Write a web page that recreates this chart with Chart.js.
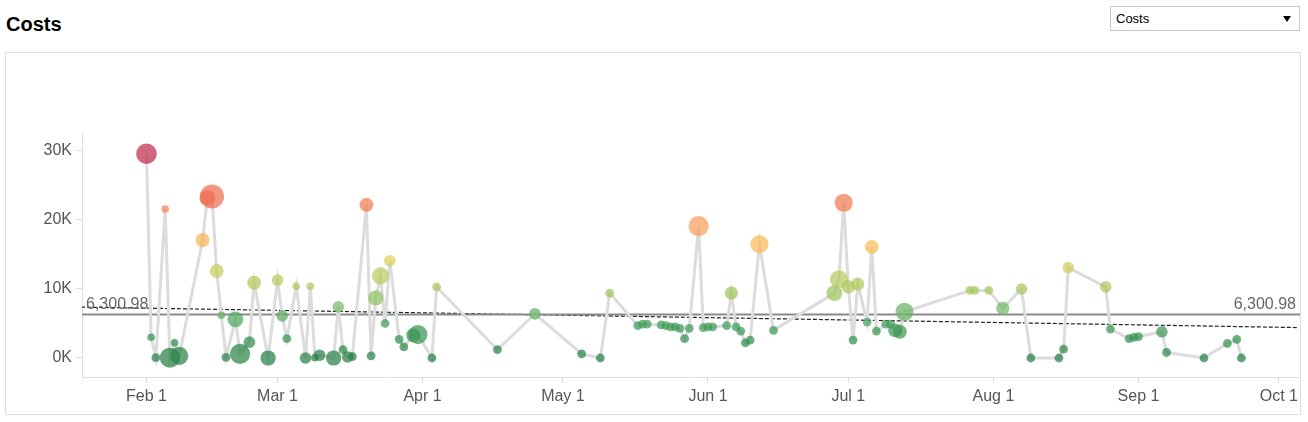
<!DOCTYPE html>
<html>
<head>
<meta charset="utf-8">
<script src="https://cdn.jsdelivr.net/npm/chart.js@4.4.1/dist/chart.umd.min.js"></script>
<style>
  body { margin: 0; background: #fff; font-family: "Liberation Sans", Arial, sans-serif; }
  #title { position: absolute; left: 6px; top: 14px; font-size: 20px; line-height: 20px; font-weight: bold; color: #000; }
  #picker { position: absolute; left: 1110px; top: 6px; width: 188px; height: 23px; border: 1px solid #c8c8c8; background: #fff; font-size: 13px; line-height: 23px; color: #000; }
  #picker span { position: absolute; left: 5px; top: 0; }
  #picker i { position: absolute; right: 8px; top: 9px; width: 0; height: 0; border-left: 4px solid transparent; border-right: 4px solid transparent; border-top: 6px solid #000; }
  #frame { position: absolute; left: 5px; top: 52px; width: 1294px; height: 361px; border: 1px solid #dedede; }
</style>
</head>
<body>
<div id="title">Costs</div>
<div id="picker"><span>Costs</span><i></i></div>
<div id="frame"><canvas id="costsChart"></canvas></div>
<script>
// Datas das ordens (2015) e custo de cada dia
const dates = [
  '2015-02-01','2015-02-02','2015-02-03','2015-02-05','2015-02-06','2015-02-07','2015-02-08','2015-02-13',
  '2015-02-14','2015-02-15','2015-02-16','2015-02-17','2015-02-18','2015-02-20','2015-02-21','2015-02-23',
  '2015-02-24','2015-02-27','2015-03-01','2015-03-02','2015-03-03','2015-03-05','2015-03-07','2015-03-08',
  '2015-03-09','2015-03-10','2015-03-13','2015-03-14','2015-03-15','2015-03-16','2015-03-17','2015-03-20',
  '2015-03-21','2015-03-22','2015-03-23','2015-03-24','2015-03-25','2015-03-27','2015-03-28','2015-03-30',
  '2015-03-31','2015-04-03','2015-04-04','2015-04-17','2015-04-25','2015-05-05','2015-05-09','2015-05-11',
  '2015-05-17','2015-05-18','2015-05-19','2015-05-22','2015-05-23','2015-05-24','2015-05-25','2015-05-26',
  '2015-05-27','2015-05-28','2015-05-30','2015-05-31','2015-06-01','2015-06-02','2015-06-05','2015-06-06',
  '2015-06-07','2015-06-08','2015-06-09','2015-06-10','2015-06-12','2015-06-15','2015-06-28','2015-06-29',
  '2015-06-30','2015-07-01','2015-07-02','2015-07-03','2015-07-05','2015-07-06','2015-07-07','2015-07-09',
  '2015-07-10','2015-07-11','2015-07-12','2015-07-13','2015-07-27','2015-07-28','2015-07-31','2015-08-03',
  '2015-08-07','2015-08-09','2015-08-15','2015-08-16','2015-08-17','2015-08-25','2015-08-26','2015-08-30',
  '2015-08-31','2015-09-01','2015-09-06','2015-09-07','2015-09-15','2015-09-20','2015-09-22','2015-09-23'
];

const costs = [
  29600, 3000, 50, 21600, 40, 2200, 300, 17100,
  23200, 23400, 12600, 6200, 100, 5600, 600, 2300,
  10900, 0, 11300, 6100, 2800, 10400, 0, 10400,
  50, 400, 0, 7400, 1200, 150, 200, 22200,
  300, 8700, 11900, 5000, 14100, 2700, 1600, 3300,
  3400, 0, 10300, 1200, 6400, 600, 0, 9400,
  4700, 4900, 4900, 4800, 4700, 4500, 4500, 4300,
  2800, 4300, 19100, 4400, 4500, 4500, 4700, 9400,
  4500, 3900, 2200, 2600, 16500, 4000, 9400, 11400,
  22500, 10300, 2600, 10700, 5200, 16100, 3900, 4900,
  4900, 4000, 3800, 6700, 9800, 9800, 9800, 7200,
  10000, 0, 0, 1300, 13100, 10300, 4200, 2800,
  3000, 3100, 3800, 800, 0, 2100, 2700, 0
];

// Quantidade de itens (tamanho das bolhas)
const quantities = [
  22, 3, 4, 3, 21, 3, 17, 10,
  13, 30, 10, 3, 4, 13, 21, 7,
  10, 12, 7, 7, 4, 3, 7, 3,
  3, 7, 12, 7, 4, 7, 4, 10,
  4, 12, 15, 4, 7, 4, 4, 10,
  19, 4, 4, 4, 7, 4, 4, 4,
  4, 4, 4, 4, 4, 4, 4, 4,
  4, 4, 21, 4, 4, 4, 4, 9,
  4, 4, 4, 4, 17, 4, 13, 17,
  17, 9, 4, 9, 4, 10, 4, 4,
  4, 10, 10, 17, 4, 4, 4, 9,
  7, 4, 4, 4, 7, 7, 4, 4,
  4, 4, 7, 4, 4, 4, 4, 4
];

const averageCost = 6300.98;
const trendDates = ['2015-01-18', '2015-10-05'];
const trendCosts = [7380, 4410];
const monthTicks = ['2015-02-01','2015-03-01','2015-04-01','2015-05-01','2015-06-01','2015-07-01','2015-08-01','2015-09-01','2015-10-01'];
const costTicks = [0, 10000, 20000, 30000];
const monthNames = ['Jan','Feb','Mar','Apr','May','Jun','Jul','Aug','Sep','Oct','Nov','Dec'];

const DAY = 86400000;
function toMs(s) {
  const p = s.split('-');
  return Date.UTC(+p[0], +p[1] - 1, +p[2]);
}

// Escala de cor verde -> amarelo -> vermelho pelo custo
const colorStops = [
  [0, [40, 128, 70]],
  [5000, [66, 158, 90]],
  [7500, [122, 186, 104]],
  [10000, [168, 200, 92]],
  [12500, [196, 204, 94]],
  [14500, [230, 206, 90]],
  [17000, [252, 178, 88]],
  [20000, [248, 150, 92]],
  [23000, [238, 114, 80]],
  [30000, [188, 40, 76]]
];
function costColor(v) {
  let i = 0;
  while (i < colorStops.length - 2 && v > colorStops[i + 1][0]) i++;
  const a = colorStops[i], b = colorStops[i + 1];
  const t = Math.max(0, Math.min(1, (v - a[0]) / (b[0] - a[0])));
  const c = a[1].map((x, k) => Math.round(x + (b[1][k] - x) * t));
  return 'rgba(' + c.join(',') + ',0.72)';
}

const points = dates.map((d, i) => ({ x: toMs(d), y: costs[i] }));
const xMin = toMs('2015-02-01') - 13.78 * DAY;
const xMax = xMin + 260.3 * DAY;

// Rótulos da linha de média
const averageLabels = {
  id: 'averageLabels',
  afterDatasetsDraw(chart) {
    const ctx = chart.ctx;
    const area = chart.chartArea;
    const y = chart.scales.y.getPixelForValue(averageCost) - 6;
    const text = averageCost.toLocaleString('en-US', { minimumFractionDigits: 2, maximumFractionDigits: 2 });
    ctx.save();
    ctx.font = '16px "Liberation Sans", Arial, sans-serif';
    ctx.fillStyle = '#666';
    ctx.textBaseline = 'alphabetic';
    ctx.textAlign = 'left';
    ctx.fillText(text, area.left + 4, y);
    ctx.textAlign = 'right';
    ctx.fillText(text, area.right - 4, y);
    ctx.restore();
  }
};

const tickFont = { family: '"Liberation Sans", Arial, sans-serif', size: 16 };

new Chart(document.getElementById('costsChart').getContext('2d'), {
  type: 'scatter',
  data: {
    datasets: [
      {
        label: 'Costs',
        data: points,
        order: 0,
        clip: false,
        pointRadius: ctx => 2.2 * Math.sqrt(quantities[ctx.dataIndex]),
        pointHoverRadius: ctx => 2.2 * Math.sqrt(quantities[ctx.dataIndex]),
        pointBackgroundColor: ctx => costColor(costs[ctx.dataIndex]),
        pointBorderWidth: 0,
        borderWidth: 0
      },
      {
        type: 'line',
        label: 'path',
        data: points,
        order: 1,
        borderColor: '#dcdcdc',
        borderWidth: 3,
        pointRadius: 0,
        tension: 0
      },
      {
        type: 'line',
        label: 'average',
        data: [{ x: xMin, y: averageCost }, { x: xMax, y: averageCost }],
        order: 2,
        borderColor: '#8a8a8a',
        borderWidth: 2,
        pointRadius: 0
      },
      {
        type: 'line',
        label: 'trend',
        data: trendDates.map((d, i) => ({ x: toMs(d), y: trendCosts[i] })),
        order: 3,
        borderColor: '#222',
        borderWidth: 1.2,
        borderDash: [4, 2],
        pointRadius: 0
      }
    ]
  },
  options: {
    responsive: true,
    maintainAspectRatio: false,
    animation: false,
    layout: { autoPadding: false, padding: { top: 80, left: 0, right: 0, bottom: 0 } },
    plugins: {
      legend: { display: false },
      tooltip: { enabled: false }
    },
    scales: {
      x: {
        type: 'linear',
        min: xMin,
        max: xMax,
        afterFit: scale => {
          scale.height = 37;
          scale.paddingLeft = 0;
          scale.paddingRight = 0;
        },
        afterBuildTicks: scale => { scale.ticks = monthTicks.map(d => ({ value: toMs(d) })); },
        grid: { drawOnChartArea: false, drawTicks: true, tickLength: 6, color: '#dedede' },
        border: { color: '#dedede' },
        ticks: {
          padding: 4,
          maxRotation: 0,
          autoSkip: false,
          color: '#555',
          font: tickFont,
          callback: v => {
            const d = new Date(v);
            return monthNames[d.getUTCMonth()] + ' ' + d.getUTCDate();
          }
        }
      },
      y: {
        min: -2754,
        max: 32608,
        afterFit: scale => {
          scale.width = 76;
          scale.paddingTop = 0;
          scale.paddingBottom = 0;
        },
        afterBuildTicks: scale => { scale.ticks = costTicks.map(v => ({ value: v })); },
        grid: { drawOnChartArea: false, drawTicks: true, tickLength: 6, color: '#dedede' },
        border: { color: '#dedede' },
        ticks: {
          padding: 4,
          color: '#555',
          font: tickFont,
          callback: v => (v / 1000) + 'K'
        }
      }
    }
  },
  plugins: [averageLabels]
});
</script>
</body>
</html>
